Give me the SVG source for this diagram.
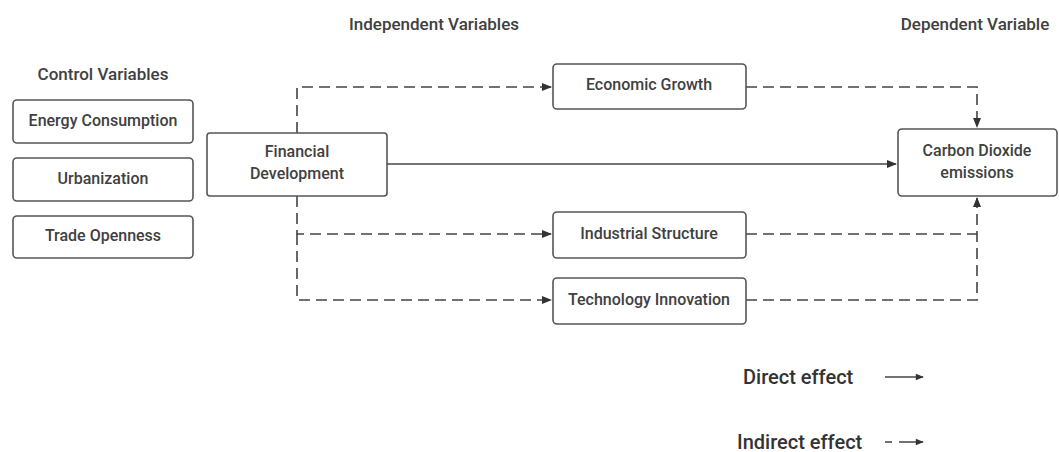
<svg xmlns="http://www.w3.org/2000/svg" width="1059" height="452" viewBox="0 0 1059 452">
  <style>
    .box { fill: #ffffff; stroke: #555555; stroke-width: 1.6; }
    .lbl { font-family: Roboto, "Liberation Sans", sans-serif; font-size: 16px; font-weight: 500; fill: #404040; text-anchor: middle; }
    .title { font-family: Roboto, "Liberation Sans", sans-serif; font-size: 17px; font-weight: 500; fill: #404040; text-anchor: middle; }
    .legend { font-family: Roboto, "Liberation Sans", sans-serif; font-size: 20px; font-weight: 500; fill: #333333; }
    .solid { fill: none; stroke: #444444; stroke-width: 1.6; }
    .dash { fill: none; stroke: #444444; stroke-width: 1.6; stroke-dasharray: 11 6; }
  </style>
  <defs>
    <marker id="arrow" viewBox="0 0 10 10" refX="9" refY="5" markerWidth="10" markerHeight="10" markerUnits="userSpaceOnUse" orient="auto">
      <path d="M0,1 L10,5 L0,9 Z" fill="#333333"/>
    </marker>
    <marker id="arrow-small" viewBox="0 0 10 10" refX="9" refY="5" markerWidth="9" markerHeight="8" markerUnits="userSpaceOnUse" orient="auto">
      <path d="M0,1 L10,5 L0,9 Z" fill="#333333"/>
    </marker>
  </defs>
  <rect width="1059" height="452" fill="#ffffff"/>

  <!-- Column headings -->
  <text class="title" x="103" y="80">Control Variables</text>
  <text class="title" x="434" y="30">Independent Variables</text>
  <text class="title" x="975" y="30">Dependent Variable</text>

  <!-- Connectors -->
  <g id="connectors">
    <path class="solid" d="M387,164 H896" marker-end="url(#arrow)"/>
    <path class="dash" d="M297,133 V87 H551" marker-end="url(#arrow)"/>
    <path class="dash" d="M297,196 V234 H551" marker-end="url(#arrow)"/>
    <path class="dash" d="M297,234 V300 H551" marker-end="url(#arrow)"/>
    <path class="dash" d="M746,87 H977 V127" marker-end="url(#arrow)"/>
    <path class="dash" d="M746,234 H977"/>
    <path class="dash" d="M746,300 H977 V198" marker-end="url(#arrow)"/>
  </g>

  <!-- Control variables -->
  <g id="energy-consumption">
    <rect class="box" x="13" y="100" width="180" height="43" rx="4"/>
    <text class="lbl" x="103" y="126">Energy Consumption</text>
  </g>
  <g id="urbanization">
    <rect class="box" x="13" y="158" width="180" height="43" rx="4"/>
    <text class="lbl" x="103" y="184">Urbanization</text>
  </g>
  <g id="trade-openness">
    <rect class="box" x="13" y="216" width="180" height="42" rx="4"/>
    <text class="lbl" x="103" y="241">Trade Openness</text>
  </g>

  <!-- Independent variable -->
  <g id="financial-development">
    <rect class="box" x="207" y="133" width="180" height="63" rx="3"/>
    <text class="lbl" x="297" y="157">Financial</text>
    <text class="lbl" x="297" y="179">Development</text>
  </g>

  <!-- Mediators -->
  <g id="economic-growth">
    <rect class="box" x="553" y="64" width="193" height="45" rx="4"/>
    <text class="lbl" x="649" y="90">Economic Growth</text>
  </g>
  <g id="industrial-structure">
    <rect class="box" x="553" y="212" width="193" height="46" rx="4"/>
    <text class="lbl" x="649" y="239">Industrial Structure</text>
  </g>
  <g id="technology-innovation">
    <rect class="box" x="553" y="278" width="193" height="46" rx="4"/>
    <text class="lbl" x="649" y="305">Technology Innovation</text>
  </g>

  <!-- Dependent variable -->
  <g id="carbon-dioxide-emissions">
    <rect class="box" x="898" y="129" width="159" height="67" rx="4"/>
    <text class="lbl" x="977" y="156">Carbon Dioxide</text>
    <text class="lbl" x="977" y="178">emissions</text>
  </g>

  <!-- Legend -->
  <g id="legend">
    <text class="legend" x="743" y="384">Direct effect</text>
    <path class="solid" d="M885,377 H923" marker-end="url(#arrow-small)"/>
    <text class="legend" x="737" y="449">Indirect effect</text>
    <path class="solid" d="M885,442 H892 M899,442 H923" marker-end="url(#arrow-small)"/>
  </g>
</svg>
